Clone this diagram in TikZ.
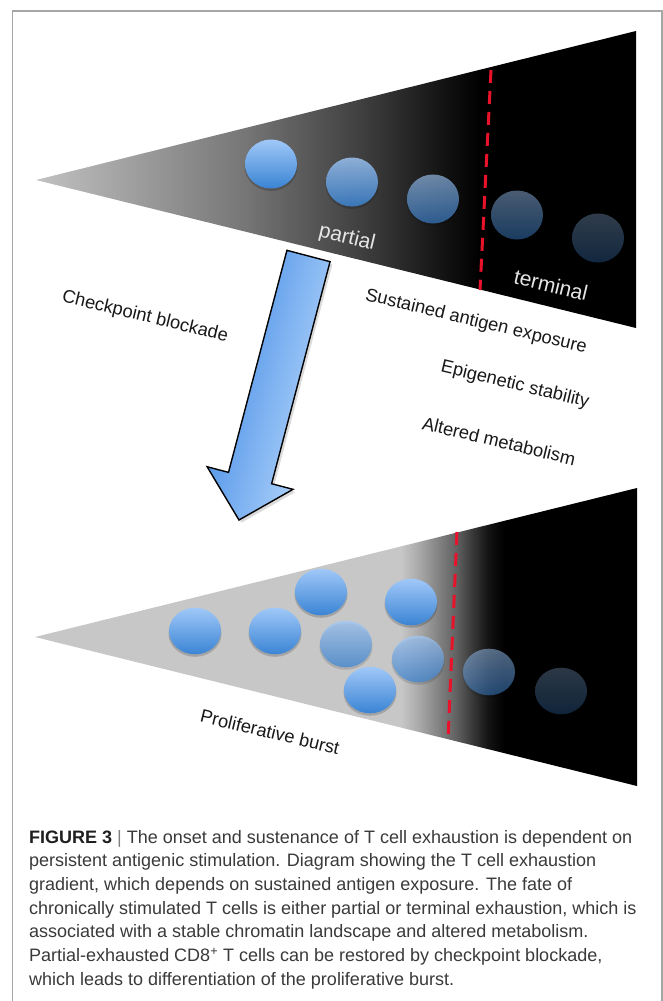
\documentclass[tikz,border=0pt]{standalone}
\usepackage{fontspec}
\setmainfont{Liberation Sans}
\usetikzlibrary{calc}
\definecolor{cellTop}{HTML}{A0C8F8}
\definecolor{cellBot}{HTML}{3A84D4}
\definecolor{arrowL}{HTML}{5A9AEA}
\definecolor{arrowR}{HTML}{A8CEF9}
\definecolor{dashred}{HTML}{E8132B}
\definecolor{framegray}{HTML}{A6A6A6}
\definecolor{captext}{HTML}{3A3A3A}
\definecolor{tw0}{gray}{0.76}
\definecolor{tw1}{gray}{0.47}
\definecolor{tw2}{gray}{0.25}
\definecolor{tw3}{gray}{0.08}
\definecolor{bw0}{gray}{0.78}
\definecolor{bw1}{gray}{0.66}
\definecolor{bw2}{gray}{0.50}
\definecolor{bw3}{gray}{0.38}
\definecolor{bw4}{gray}{0.20}
\definecolor{bw5}{gray}{0.07}
\pgfdeclarehorizontalshading{topwedge}{100bp}{color(0bp)=(tw0); color(25bp)=(tw0); color(42bp)=(tw1); color(52bp)=(tw2); color(58.7bp)=(tw3); color(62bp)=(black); color(100bp)=(black)}
\pgfdeclarehorizontalshading{botwedge}{100bp}{color(0bp)=(bw0); color(55.4bp)=(bw0); color(56.9bp)=(bw1); color(58.6bp)=(bw2); color(60bp)=(bw3); color(61.5bp)=(bw4); color(62.7bp)=(bw5); color(64bp)=(black); color(100bp)=(black)}
\tikzset{
  lbl/.style={font=\fontsize{18.3}{22}\selectfont, text=black!90, rotate=-13.5, inner sep=0pt},
  wlbl/.style={font=\fontsize{21}{25}\selectfont, text=white!90!black, rotate=-13.5, inner sep=0pt},
  caption/.style={font=\fontsize{18}{23}\selectfont, text=captext, anchor=base west, inner sep=0pt},
  reddash/.style={draw=dashred, line width=3pt, dash pattern=on 13pt off 8pt},
  frameline/.style={draw=framegray, line width=1.5pt},
  cellshadow/.style={fill=black},
}
% cell: #1 centre, #2 y radius, #3 opacity
\newcommand{\tcell}[3]{%
  \fill[cellshadow, opacity=0.18*#3] ($#1+(0,2.5)$) ellipse [x radius=26.5pt, y radius=#2pt];
  \shade[top color=cellTop, bottom color=cellBot, opacity=#3] #1 ellipse [x radius=26pt, y radius=#2pt];
}
\begin{document}
\begin{tikzpicture}[x=1pt, y=-1pt]
\useasboundingbox (0,0) rectangle (663,1001);
\fill[white] (0,0) rectangle (663,1001);
% frame
\draw[frameline] (12.5,1010) -- (12.5,11) -- (662,11) -- (662,1010);

% ---- top wedge ----
\coordinate (tApex) at (36,180);
\coordinate (tTR) at (636,31);
\coordinate (tBR) at (636,328);
\shade[shading=topwedge] (tApex) -- (tTR) -- (tBR) -- cycle;

\tcell{(271,164)}{24.5}{1}
\tcell{(352,182)}{24.5}{0.82}
\tcell{(433,199)}{24.5}{0.64}
\tcell{(517,215)}{24.5}{0.46}
\tcell{(598,238)}{24.5}{0.3}

\coordinate (tRedTop) at (491,70);
\coordinate (tRedBot) at (480,290);
\draw[reddash] (tRedTop) -- (tRedBot);

\node[wlbl] (partial) at (347,238) {partial};
\node[wlbl] (terminal) at (551,285) {terminal};

% ---- labels ----
\node[lbl] (checkpoint) at (145,317) {Checkpoint blockade};
\node[lbl] (sustained) at (476,322) {Sustained antigen exposure};
\node[lbl] (epigenetic) at (515,385) {Epigenetic stability};
\node[lbl] (altered) at (499,441) {Altered metabolism};

% ---- block arrow (drawn in its own rotated frame) ----
\begin{scope}[transform canvas={shift={(308.5pt,-256pt)}, rotate=-14.75}]
  \coordinate (aA) at (-22.3,0);
  \coordinate (aB) at (22.3,0);
  \coordinate (aSR) at (22.3,229.6);
  \coordinate (aBR) at (44.4,229.6);
  \coordinate (aT) at (0,273);
  \coordinate (aBL) at (-44.4,229.6);
  \coordinate (aSL) at (-22.3,229.6);
  \fill[black, opacity=0.14] ($(aA)+(3,2)$) -- ($(aB)+(3,2)$) -- ($(aSR)+(3,2)$) -- ($(aBR)+(3,2)$) -- ($(aT)+(3,2)$) -- ($(aBL)+(3,2)$) -- ($(aSL)+(3,2)$) -- cycle;
  \shade[left color=arrowL, right color=arrowR] (aA) -- (aB) -- (aSR) -- (aBR) -- (aT) -- (aBL) -- (aSL) -- cycle;
  \draw[line width=1.4pt, line join=miter, black] (aA) -- (aB) -- (aSR) -- (aBR) -- (aT) -- (aBL) -- (aSL) -- cycle;
\end{scope}

% ---- bottom wedge ----
\coordinate (bApex) at (35,637);
\coordinate (bTR) at (637,488);
\coordinate (bBR) at (637,786);
\shade[shading=botwedge] (bApex) -- (bTR) -- (bBR) -- cycle;

\tcell{(195,631)}{23.3}{1}
\tcell{(275,631)}{23.3}{1}
\tcell{(321,592)}{23.3}{1}
\tcell{(411,602)}{23.3}{1}
\tcell{(346,644)}{23.3}{0.72}
\tcell{(418,659)}{23.3}{0.7}
\tcell{(370,690)}{23.3}{1}
\tcell{(489,672)}{23.3}{0.5}
\tcell{(561,691)}{23.3}{0.28}

\coordinate (bRedTop) at (457,532);
\coordinate (bRedBot) at (448,740);
\draw[reddash] (bRedTop) -- (bRedBot);

\node[lbl] (burst) at (270,732) {Proliferative burst};

% ---- caption ----
\node[caption] (cap1) at (29,843) {{\bfseries\color{black!88}FIGURE 3} {\color{gray}|} The onset and sustenance of T cell exhaustion is dependent on};
\node[caption] (cap2) at (29,866.7) {persistent antigenic stimulation. Diagram showing the T cell exhaustion};
\node[caption] (cap3) at (29,890.4) {gradient, which depends on sustained antigen exposure. The fate of};
\node[caption] (cap4) at (29,914.1) {chronically stimulated T cells is either partial or terminal exhaustion, which is};
\node[caption] (cap5) at (29,937.8) {associated with a stable chromatin landscape and altered metabolism.};
\node[caption] (cap6) at (29,961.5) {Partial-exhausted CD8\textsuperscript{+} T cells can be restored by checkpoint blockade,};
\node[caption] (cap7) at (29,985.2) {which leads to differentiation of the proliferative burst.};
\end{tikzpicture}
\end{document}
